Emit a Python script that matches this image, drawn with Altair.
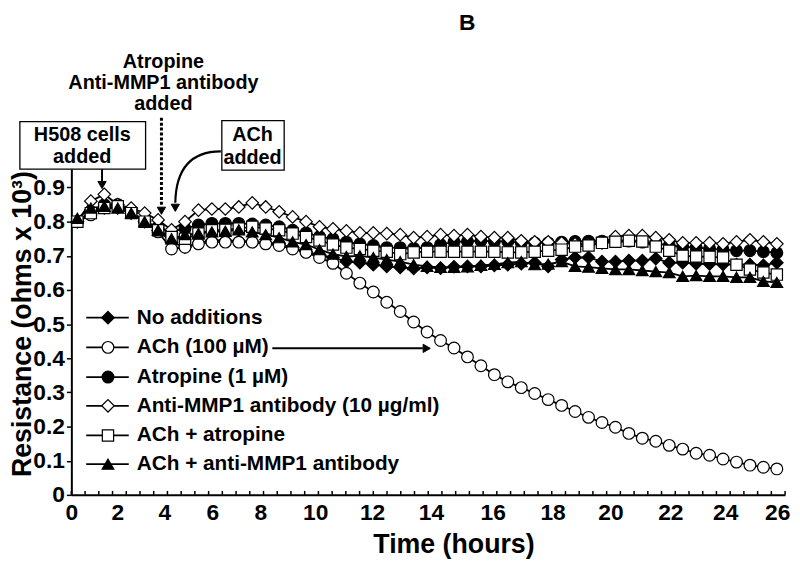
import altair as alt
import pandas as pd

# ---------------- data ----------------
times = [0.22, 0.71, 1.2, 1.69, 2.18, 2.67, 3.16, 3.65, 4.14, 4.63, 5.12, 5.61, 6.1,
         6.59, 7.08, 7.57, 8.06, 8.55, 9.04, 9.53, 10.02, 10.51, 11.0, 11.49, 11.98,
         12.47, 12.96, 13.45, 13.94, 14.43, 14.92, 15.41, 15.9, 16.39, 16.88, 17.37,
         17.86, 18.35, 18.84, 19.33, 19.82, 20.31, 20.8, 21.29, 21.78, 22.27, 22.76,
         23.25, 23.74, 24.23, 24.72, 25.21, 25.7]

no_additions = [0.80, 0.83, 0.84, 0.84, 0.825, 0.80, 0.775, 0.74, 0.725, 0.738,
                0.745, 0.745, 0.743, 0.742, 0.738, 0.735, 0.724, 0.712, 0.703, 0.695,
                0.683, 0.68, 0.674, 0.669, 0.666, 0.663, 0.666, 0.664, 0.668, 0.669,
                0.669, 0.672, 0.674, 0.677, 0.68, 0.669, 0.689, 0.695, 0.695, 0.683,
                0.683, 0.686, 0.686, 0.692, 0.68, 0.68, 0.677, 0.676, 0.675, 0.674,
                0.674, 0.672, 0.68]
ach = [0.80, 0.82, 0.845, 0.85, 0.83, 0.80, 0.77, 0.72, 0.725, 0.735,
       0.74, 0.74, 0.74, 0.74, 0.735, 0.73, 0.72, 0.71, 0.695, 0.678,
       0.649, 0.62, 0.594, 0.564, 0.537, 0.506, 0.477, 0.452, 0.43, 0.404,
       0.378, 0.352, 0.331, 0.314, 0.297, 0.279, 0.262, 0.244, 0.227, 0.212,
       0.198, 0.18, 0.166, 0.157, 0.145, 0.134, 0.122, 0.116, 0.105, 0.096,
       0.087, 0.081, 0.076]
atropine = [0.80, 0.83, 0.85, 0.85, 0.83, 0.80, 0.785, 0.77, 0.78, 0.79,
            0.795, 0.795, 0.795, 0.793, 0.79, 0.785, 0.775, 0.767, 0.756, 0.75,
            0.74, 0.735, 0.73, 0.724, 0.724, 0.722, 0.724, 0.733, 0.741, 0.742,
            0.744, 0.742, 0.742, 0.738, 0.738, 0.738, 0.74, 0.742, 0.743, 0.743,
            0.743, 0.743, 0.74, 0.737, 0.73, 0.727, 0.724, 0.721, 0.718, 0.715,
            0.715, 0.712, 0.709]
anti_mmp1 = [0.80, 0.86, 0.88, 0.85, 0.84, 0.825, 0.805, 0.776, 0.80, 0.834,
             0.837, 0.837, 0.843, 0.855, 0.843, 0.829, 0.814, 0.80, 0.785, 0.779,
             0.773, 0.767, 0.767, 0.765, 0.762, 0.753, 0.756, 0.762, 0.759, 0.762,
             0.756, 0.753, 0.753, 0.744, 0.741, 0.741, 0.738, 0.735, 0.733, 0.738,
             0.756, 0.759, 0.759, 0.753, 0.747, 0.738, 0.738, 0.738, 0.735, 0.741,
             0.747, 0.741, 0.735]
ach_atropine = [0.80, 0.825, 0.84, 0.845, 0.825, 0.80, 0.775, 0.755, 0.75, 0.765,
                0.775, 0.776, 0.78, 0.785, 0.78, 0.775, 0.765, 0.755, 0.745, 0.733,
                0.724, 0.72, 0.715, 0.712, 0.705, 0.71, 0.712, 0.712, 0.712, 0.712,
                0.712, 0.712, 0.71, 0.71, 0.712, 0.715, 0.718, 0.727, 0.73, 0.738,
                0.741, 0.744, 0.742, 0.727, 0.715, 0.70, 0.698, 0.697, 0.695, 0.674,
                0.66, 0.651, 0.645]
ach_anti_mmp1 = [0.81, 0.84, 0.845, 0.84, 0.825, 0.80, 0.775, 0.75, 0.762, 0.765,
                 0.77, 0.772, 0.776, 0.77, 0.762, 0.753, 0.741, 0.733, 0.718, 0.705,
                 0.698, 0.70, 0.695, 0.689, 0.683, 0.674, 0.669, 0.666, 0.666, 0.668,
                 0.672, 0.675, 0.68, 0.683, 0.674, 0.676, 0.683, 0.669, 0.667, 0.663,
                 0.66, 0.66, 0.657, 0.654, 0.651, 0.64, 0.642, 0.64, 0.64, 0.637,
                 0.637, 0.625, 0.622]

series_names = ["No additions", "ACh (100 µM)", "Atropine (1 µM)",
                "Anti-MMP1 antibody (10 µg/ml)", "ACh + atropine",
                "ACh + anti-MMP1 antibody"]
series_values = [no_additions, ach, atropine, anti_mmp1, ach_atropine, ach_anti_mmp1]

x_tick_values = [0, 2, 4, 6, 8, 10, 12, 14, 16, 18, 20, 22, 24, 26]
x_minor_ticks = [i / 2 for i in range(53)]
y_tick_values = [0, 0.1, 0.2, 0.3, 0.4, 0.5, 0.6, 0.7, 0.8, 0.9]

# ---------------- styles / layout ----------------
marker_shapes = ["diamond", "circle", "circle", "diamond", "square", "triangle-up"]
marker_fills = ["black", "white", "black", "white", "white", "black"]
marker_sizes = [160, 140, 140, 160, 130, 140]

# the reference's x tick labels sit a little left of their ticks
x_label_shift = [0, -9, -17, -24, -31, -31, -29, -25, -18, -13, -10, -5, -5, -8]

FONT = "Liberation Sans"
PLOT_W, PLOT_H = 721, 345
OX, OY = 72, 152  # page position of the plot origin


def PX(x):
    return x - OX


def PY(y):
    return y - OY


rows = []
for name, vals in zip(series_names, series_values):
    for t, v in zip(times, vals):
        rows.append({"series": name, "t": t, "v": v})
df = pd.DataFrame(rows)

x_scale = alt.Scale(domain=[0, 26], nice=False)
y_scale = alt.Scale(domain=[0, 1], nice=False)

label_offset = {
    "condition": [{"test": f"datum.value == {v}", "value": s}
                  for v, s in zip(x_tick_values, x_label_shift) if s != 0],
    "value": 0,
}

x_enc = alt.X("t:Q", scale=x_scale, axis=alt.Axis(
    values=x_tick_values, ticks=False, tickSize=0, labelPadding=7,
    labelOffset=label_offset,
    labelFont=FONT, labelFontSize=23, labelFontWeight="bold", labelColor="black",
    labelFlush=False, labelOverlap=False,
    domainColor="black", domainWidth=2, grid=False,
    title="Time (hours)", titleFont=FONT, titleFontSize=27, titleFontWeight="bold",
    titleColor="black", titleX=386, titleY=50, titleBaseline="middle", titleAlign="center"))
y_enc = alt.Y("v:Q", scale=y_scale, axis=alt.Axis(
    values=y_tick_values,
    labelExpr="datum.value == 0 ? '0' : format(datum.value, '.1f')",
    tickSize=5, tickWidth=1.5, tickColor="black", labelPadding=2,
    labelFont=FONT, labelFontSize=23, labelFontWeight="bold", labelColor="black",
    labelFlush=False, labelOverlap=False,
    domainColor="black", domainWidth=2, grid=False,
    title="Resistance (ohms x 10³)", titleFont=FONT, titleFontSize=27,
    titleFontWeight="bold", titleColor="black", titleX=-49, titleY=172,
    titleAngle=-90, titleBaseline="middle", titleAlign="center"))

layers = []

# inward minor ticks on the x axis
layers.append(
    alt.Chart(pd.DataFrame({"t": x_minor_ticks})).mark_rule(color="black", strokeWidth=1.5)
    .encode(x=x_enc, y=alt.value(PLOT_H), y2=alt.value(PLOT_H - 4))
)

# series lines
layers.append(
    alt.Chart(df).mark_line(color="black", strokeWidth=1.8)
    .encode(x=x_enc, y=y_enc, detail="series:N")
)

# series markers
for name, shp, fil, sz in zip(series_names, marker_shapes, marker_fills, marker_sizes):
    layers.append(
        alt.Chart(df[df.series == name]).mark_point(
            shape=shp, filled=True, fill=fil, stroke="black", strokeWidth=1.2,
            size=sz, opacity=1)
        .encode(x=x_enc, y=y_enc)
    )

one = pd.DataFrame({"a": [0]})


def text(s, x, y, size=20, align="center"):
    return alt.Chart(one).mark_text(
        text=s, font=FONT, fontSize=size, fontWeight="bold", color="black",
        align=align, baseline="middle").encode(x=alt.value(PX(x)), y=alt.value(PY(y)))


def rule(x1, y1, x2, y2, width=2, dash=None):
    kw = dict(color="black", strokeWidth=width)
    if dash:
        kw["strokeDash"] = dash
    return alt.Chart(one).mark_rule(**kw).encode(
        x=alt.value(PX(x1)), y=alt.value(PY(y1)), x2=alt.value(PX(x2)), y2=alt.value(PY(y2)))


def head(shape, x, y, size=75):
    return alt.Chart(one).mark_point(shape=shape, filled=True, fill="black", stroke="black",
                                     strokeWidth=1, size=size, opacity=1).encode(
        x=alt.value(PX(x)), y=alt.value(PY(y)))


def box(x1, y1, x2, y2):
    return alt.Chart(one).mark_rect(fill="white", stroke="black", strokeWidth=1.3).encode(
        x=alt.value(PX(x1)), y=alt.value(PY(y1)), x2=alt.value(PX(x2)), y2=alt.value(PY(y2)))


# legend (drawn inside the plot)
legend_rows_y = [318, 348, 378, 407, 437, 466]
for name, shp, fil, sz, ly in zip(series_names, marker_shapes, marker_fills, marker_sizes,
                                 legend_rows_y):
    layers.append(rule(87, ly, 130, ly, width=1.8))
    layers.append(
        alt.Chart(one).mark_point(shape=shp, filled=True, fill=fil, stroke="black",
                                  strokeWidth=1.2, size=sz, opacity=1)
        .encode(x=alt.value(PX(109)), y=alt.value(PY(ly)))
    )
    layers.append(text(name, 138, ly, size=21, align="left"))

# arrow from the ACh legend entry to its curve
layers.append(rule(275, 349, 427, 349, width=2))
layers.append(head("triangle-right", 431, 349, 70))

# title
layers.append(text("B", 472, 20, size=23))

# "H508 cells added" box + arrow
layers.append(box(20, 120, 147, 168))
layers.append(text("H508 cells", 83, 134, size=20))
layers.append(text("added", 83, 156, size=20))
layers.append(rule(103, 168, 103, 181, width=2))
layers.append(head("triangle-down", 103, 184, 70))

# Atropine / Anti-MMP1 antibody added + dotted arrow
layers.append(text("Atropine", 165, 60, size=20))
layers.append(text("Anti-MMP1 antibody", 165, 81, size=20))
layers.append(text("added", 165, 102, size=20))
layers.append(rule(163, 116, 163, 206, width=3, dash=[3, 2]))
layers.append(head("triangle-down", 163, 210, 70))

# "ACh added" box + curved arrow
layers.append(box(224, 119, 287, 169))
layers.append(text("ACh", 255, 134, size=20))
layers.append(text("added", 255, 157, size=20))
curve_path = "M0.575,-0.75 Q-0.55,-0.75 -0.575,0.55"
layers.append(
    alt.Chart(one).mark_point(shape=curve_path, filled=False, stroke="black",
                              strokeWidth=2.2, size=6400, opacity=1)
    .encode(x=alt.value(PX(200)), y=alt.value(PY(180)))
)
layers.append(head("triangle-down", 177, 207, 70))

chart = alt.layer(*layers).properties(
    width=PLOT_W, height=PLOT_H,
    autosize=alt.AutoSizeParams(type="none"),
    padding={"left": 64, "top": 144, "right": 7, "bottom": 67},
    background="white",
).configure_view(stroke=None)

chart.save("out.html", embed_options={"renderer": "svg", "actions": False})
